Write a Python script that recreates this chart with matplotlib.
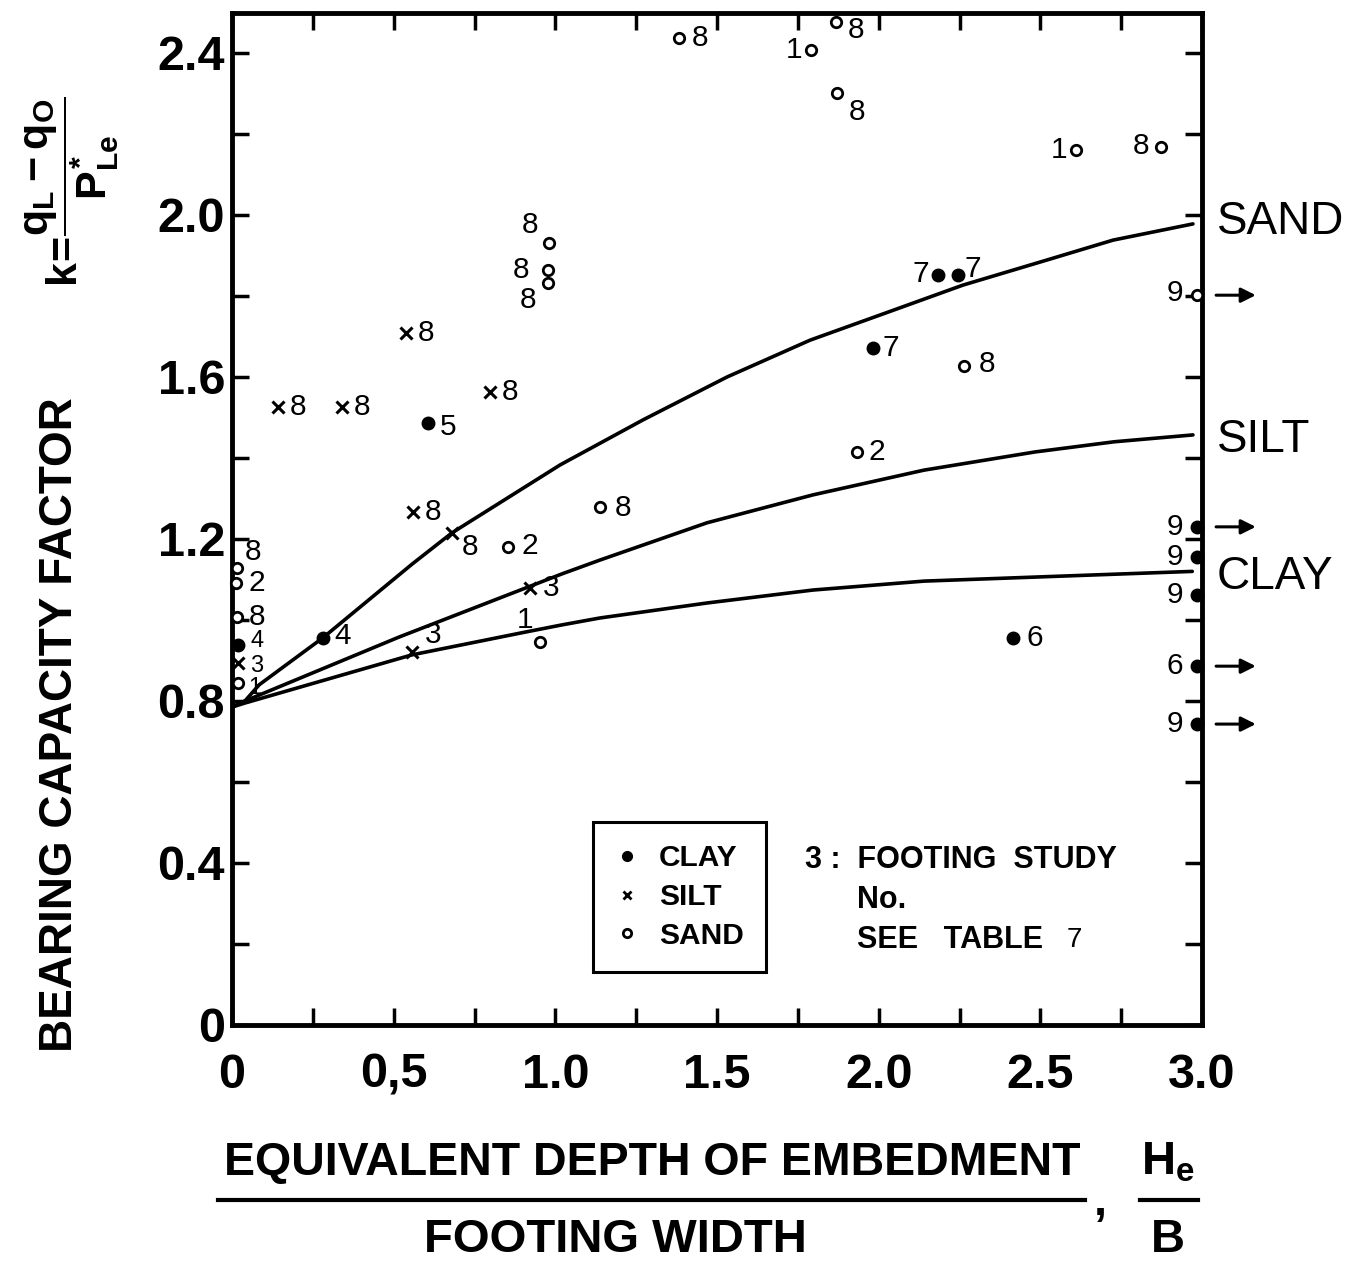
import matplotlib
matplotlib.use("Agg")
import matplotlib.pyplot as plt
from matplotlib import font_manager as fm
from matplotlib.lines import Line2D

# ---------------- data ----------------
sand_curve_x = [0.0, 0.04, 0.084, 0.281, 0.557, 0.680, 1.015, 1.271, 1.531, 1.788, 2.004, 2.261, 2.521, 2.725, 2.972]
sand_curve_y = [0.785, 0.80, 0.840, 0.956, 1.138, 1.215, 1.383, 1.494, 1.600, 1.691, 1.753, 1.827, 1.889, 1.938, 1.978]
silt_curve_x = [0.0, 0.04, 0.517, 1.021, 1.138, 1.469, 1.797, 2.140, 2.484, 2.728, 2.972]
silt_curve_y = [0.785, 0.80, 0.958, 1.114, 1.148, 1.240, 1.309, 1.370, 1.415, 1.440, 1.457]
clay_curve_x = [0.0, 0.04, 0.557, 0.906, 1.021, 1.138, 1.469, 1.797, 2.140, 2.484, 2.970]
clay_curve_y = [0.785, 0.795, 0.914, 0.970, 0.988, 1.005, 1.042, 1.074, 1.096, 1.106, 1.120]

clay_x = [0.606, 0.281, 0.020, 2.183, 2.245, 1.983, 2.416, 2.985, 2.985, 2.985, 2.985, 2.985]
clay_y = [1.486, 0.956, 0.938, 1.852, 1.852, 1.672, 0.956, 1.230, 1.156, 1.062, 0.886, 0.743]
clay_id = ['5', '4', '4', '7', '7', '7', '6', '9', '9', '9', '6', '9']

silt_x = [0.142, 0.340, 0.538, 0.798, 0.560, 0.680, 0.922, 0.557, 0.020]
silt_y = [1.526, 1.526, 1.709, 1.563, 1.267, 1.215, 1.079, 0.921, 0.894]
silt_id = ['8', '8', '8', '8', '8', '8', '3', '3', '3']

sand_x = [1.383, 1.791, 1.868, 1.871, 2.611, 2.873, 0.981, 0.977, 0.977, 2.264,
          1.933, 1.138, 0.854, 0.953, 0.015, 0.012, 0.015, 0.020, 2.985]
sand_y = [2.437, 2.407, 2.477, 2.301, 2.160, 2.168, 1.931, 1.864, 1.832, 1.626,
          1.415, 1.279, 1.180, 0.946, 1.128, 1.091, 1.007, 0.844, 1.802]
sand_id = ['8', '1', '8', '8', '1', '8', '8', '8', '8', '8',
           '2', '8', '2', '1', '8', '2', '8', '1', '9']

# values beyond the plot (arrows at right edge)
arrow_y = [1.802, 1.230, 0.886, 0.743]

curve_names = ['SAND', 'SILT', 'CLAY']
curve_label_y = [1.983, 1.444, 1.106]

x_ticks = [0, 0.5, 1.0, 1.5, 2.0, 2.5, 3.0]
x_ticklabels = ['0', '0,5', '1.0', '1.5', '2.0', '2.5', '3.0']
y_ticks = [0, 0.4, 0.8, 1.2, 1.6, 2.0, 2.4]
y_ticklabels = ['0', '0.4', '0.8', '1.2', '1.6', '2.0', '2.4']

# ---------------- label offsets (pixels, y up) and sizes ----------------
clay_off = [(20, -4), (20, 2), (19, 4), (-17, 1), (15, 6), (18, 0), (22, 0),
            (-22, 0), (-22, 0), (-22, 0), (-22, 0), (-22, 0)]
silt_off = [(20, 0), (20, 0), (20, 0), (20, 0), (20, 0), (18, -14), (21, 0), (21, 17), (18, -3)]
sand_off = [(21, 0), (-17, 0), (20, -8), (20, -19), (-17, 0), (-20, 1), (-19, 18), (-27, 0),
            (-20, -17), (23, 2), (20, 0), (23, -1), (22, 1), (-15, 22), (16, 16), (21, 0),
            (20, 0), (16, -5), (-22, 2)]
LAB = 21.5
SMALL = 17
clay_fs = [LAB, LAB, SMALL] + [LAB] * 9
silt_fs = [LAB] * 8 + [SMALL]
sand_fs = [LAB] * 17 + [SMALL, LAB]

# ---------------- fonts ----------------
names = {f.name for f in fm.fontManager.ttflist}
REG = 'Liberation Sans' if 'Liberation Sans' in names else 'DejaVu Sans'
NARROW = 'Liberation Sans Narrow' if 'Liberation Sans Narrow' in names else REG
plt.rcParams['font.family'] = [REG, 'DejaVu Sans']
plt.rcParams['mathtext.fontset'] = 'custom'
plt.rcParams['mathtext.rm'] = REG + ':bold'
plt.rcParams['mathtext.it'] = REG + ':bold'
plt.rcParams['mathtext.bf'] = REG + ':bold'

W, H = 1358, 1265
fig = plt.figure(figsize=(W / 100, H / 100), dpi=100)
ax = fig.add_axes([232 / W, 1 - 1025 / H, (1202 - 232) / W, (1025 - 12.5) / H])
ax.set_xlim(0, 3.0)
ax.set_ylim(0, 2.5)

for s in ax.spines.values():
    s.set_linewidth(3.5)

ax.set_xticks(x_ticks)
ax.set_xticklabels(x_ticklabels, fontsize=35, fontweight='bold')
ax.set_xticks([0.25, 0.75, 1.25, 1.75, 2.25, 2.75], minor=True)
ax.set_yticks(y_ticks)
ax.set_yticklabels(y_ticklabels, fontsize=35, fontweight='bold')
ax.set_yticks([0.2, 0.6, 1.0, 1.4, 1.8, 2.2], minor=True)
ax.tick_params(which='both', direction='in', top=True, right=True, length=12, width=2.5)
ax.tick_params(axis='x', which='major', pad=20)
ax.tick_params(axis='y', which='major', pad=5)

lw = 2.6
for cx, cy in ((sand_curve_x, sand_curve_y), (silt_curve_x, silt_curve_y), (clay_curve_x, clay_curve_y)):
    ax.plot(cx, cy, color='black', lw=lw, solid_capstyle='round', solid_joinstyle='round')

ax.plot(clay_x, clay_y, 'o', ms=9, color='black', clip_on=False, zorder=5)
ax.plot(silt_x, silt_y, 'x', ms=8, mew=2.2, color='black', clip_on=False, zorder=5)
ax.plot(sand_x, sand_y, 'o', ms=7.5, mfc='white', mec='black', mew=2.0, clip_on=False, zorder=5)

def put_labels(xs, ys, ids, offs, sizes):
    for x, y, t, (dx, dy), fs in zip(xs, ys, ids, offs, sizes):
        ax.annotate(t, (x, y), xytext=(dx * 0.72, dy * 0.72), textcoords='offset points',
                    ha='center', va='center', fontsize=fs, color='black',
                    annotation_clip=False, zorder=6)

put_labels(clay_x, clay_y, clay_id, clay_off, clay_fs)
put_labels(silt_x, silt_y, silt_id, silt_off, silt_fs)
put_labels(sand_x, sand_y, sand_id, sand_off, sand_fs)

for y in arrow_y:
    ax.annotate('', xy=(3.175, y), xytext=(3.035, y), xycoords='data',
                arrowprops=dict(arrowstyle='-|>', color='black', lw=2.2, mutation_scale=22),
                annotation_clip=False)

for name, y in zip(curve_names, curve_label_y):
    ax.text(3.045, y, name, fontsize=33, ha='left', va='center', clip_on=False)

# legend box
handles = [Line2D([], [], ls='none', marker='o', ms=7, color='black'),
           Line2D([], [], ls='none', marker='x', ms=6, mew=2, color='black'),
           Line2D([], [], ls='none', marker='o', ms=6, mfc='white', mec='black', mew=2)]
leg = ax.legend(handles, ['CLAY', 'SILT', 'SAND'], loc='upper left',
                bbox_to_anchor=((593 - 232) / 970, (1025 - 822) / 1012.5),
                prop={'family': NARROW, 'weight': 'bold', 'size': 21.5},
                frameon=True, fancybox=False, edgecolor='black', framealpha=1,
                handlelength=0.8, handletextpad=0.65, labelspacing=0.36,
                borderpad=0.75, borderaxespad=0)
leg.get_frame().set_linewidth(2.2)

note_kw = dict(fontsize=22, fontweight='bold', family=NARROW, ha='left', va='center')
ax.text(1.772, 0.407, '3 :  FOOTING  STUDY', **note_kw)
ax.text(1.933, 0.309, 'No.', **note_kw)
ax.text(1.933, 0.211, 'SEE   TABLE', **note_kw)
ax.text(2.58, 0.211, '7', fontsize=20, family=NARROW, ha='left', va='center')

# y-axis titles
fig.text(60 / W, 1 - 725 / H, 'BEARING CAPACITY FACTOR', rotation=90, ha='center', va='center',
         fontsize=33, fontweight='bold', family=NARROW)
fig.text(72 / W, 1 - 192 / H, r'$k\!=\!\dfrac{q_L - q_O}{P^{*}_{Le}}$', rotation=90,
         ha='center', va='center', fontsize=31)

# x-axis title (fraction form)
ttl = dict(fontsize=34, fontweight='bold', family=NARROW, ha='center', va='center')
fig.text(652 / W, 1 - 1163 / H, 'EQUIVALENT DEPTH OF EMBEDMENT',
         fontsize=33.5, fontweight='bold', family=NARROW, ha='center', va='center')
fig.text(615 / W, 1 - 1240 / H, 'FOOTING WIDTH', **ttl)
fig.text(1168 / W, 1 - 1163 / H, r'H$_{\mathregular{e}}$', **ttl)
fig.text(1168 / W, 1 - 1240 / H, 'B', **ttl)
fig.text(1100 / W, 1 - 1203 / H, ',', **ttl)
fig.add_artist(Line2D([218 / W, 1085 / W], [1 - 1200 / H] * 2, color='black', lw=3))
fig.add_artist(Line2D([1140 / W, 1198 / W], [1 - 1200 / H] * 2, color='black', lw=3))

fig.savefig('out.png', dpi=100, facecolor='white')
